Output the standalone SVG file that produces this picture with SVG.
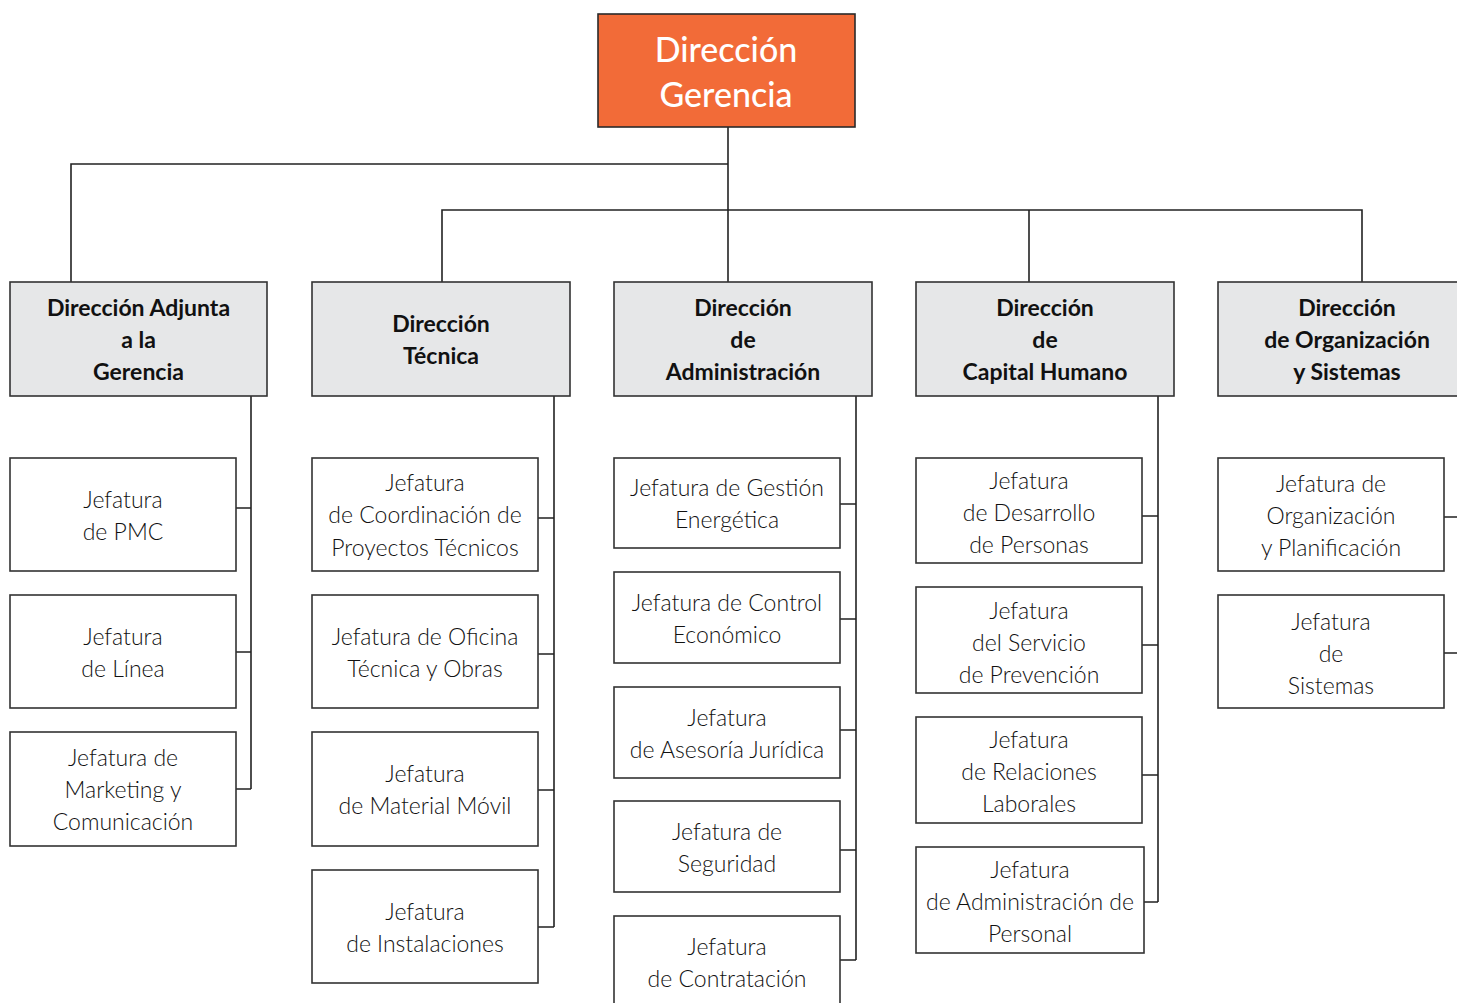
<svg xmlns="http://www.w3.org/2000/svg" width="1457" height="1003" viewBox="0 0 1457 1003">
<style>
.bg{fill:#ffffff}
.top rect{fill:#F26B38;stroke:#2a2a2a;stroke-width:1.6}
.top text{fill:#ffffff;font-family:Lato,"Open Sans","Liberation Sans",sans-serif;font-size:34px;font-weight:500;text-anchor:middle}
.hdr rect{fill:#E6E7E8;stroke:#333333;stroke-width:1.6}
.hdr text{fill:#111111;font-family:Lato,"Open Sans","Liberation Sans",sans-serif;font-size:23px;font-weight:700;text-anchor:middle}
.job rect{fill:#ffffff;stroke:#333333;stroke-width:1.6}
.job text{fill:#111111;font-family:Lato,"Open Sans","Liberation Sans",sans-serif;font-size:23px;font-weight:300;text-anchor:middle}
#connectors path{fill:none;stroke:#222222;stroke-width:1.6}
</style>
<rect class="bg" x="0" y="0" width="1457" height="1003"/>

<g id="connectors">
<path d="M728 127V282"/>
<path d="M71 282V164H728"/>
<path d="M442 282V210H1362V282"/>
<path d="M1029 210V282"/>
<path d="M236 508H251M236 652H251M236 789H251M251 396V789"/>
<path d="M538 518H554M538 654H554M538 790H554M538 927H554M554 396V927"/>
<path d="M840 504H856M840 619H856M840 730H856M840 850H856M840 960H856M856 396V960"/>
<path d="M1142 516H1158M1142 645H1158M1142 775H1158M1144 902H1158M1158 396V902"/>
<path d="M1444 517H1460M1444 653H1460M1460 396V653"/>
</g>

<g id="n-direccion-gerencia" class="top">
<rect x="598" y="14" width="257" height="113"/>
<text x="726" y="62">Dirección</text>
<text x="726" y="107">Gerencia</text>
</g>

<g id="n-adjunta" class="hdr">
<rect x="10" y="282" width="257" height="114"/>
<text x="138.5" y="316">Dirección Adjunta</text>
<text x="138.5" y="348">a la</text>
<text x="138.5" y="380">Gerencia</text>
</g>
<g id="n-tecnica" class="hdr">
<rect x="312" y="282" width="258" height="114"/>
<text x="441" y="332">Dirección</text>
<text x="441" y="364">Técnica</text>
</g>
<g id="n-administracion" class="hdr">
<rect x="614" y="282" width="258" height="114"/>
<text x="743" y="316">Dirección</text>
<text x="743" y="348">de</text>
<text x="743" y="380">Administración</text>
</g>
<g id="n-capital-humano" class="hdr">
<rect x="916" y="282" width="258" height="114"/>
<text x="1045" y="316">Dirección</text>
<text x="1045" y="348">de</text>
<text x="1045" y="380">Capital Humano</text>
</g>
<g id="n-organizacion" class="hdr">
<rect x="1218" y="282" width="258" height="114"/>
<text x="1347" y="316">Dirección</text>
<text x="1347" y="348">de Organización</text>
<text x="1347" y="380">y Sistemas</text>
</g>

<g id="n-pmc" class="job">
<rect x="10" y="458" width="226" height="113"/>
<text x="123" y="508">Jefatura</text>
<text x="123" y="540">de PMC</text>
</g>
<g id="n-linea" class="job">
<rect x="10" y="595" width="226" height="113"/>
<text x="123" y="645">Jefatura</text>
<text x="123" y="677">de Línea</text>
</g>
<g id="n-marketing" class="job">
<rect x="10" y="732" width="226" height="114"/>
<text x="123" y="766">Jefatura de</text>
<text x="123" y="798">Marketing y</text>
<text x="123" y="830">Comunicación</text>
</g>

<g id="n-coordinacion" class="job">
<rect x="312" y="458" width="226" height="113"/>
<text x="425" y="491">Jefatura</text>
<text x="425" y="523">de Coordinación de</text>
<text x="425" y="556">Proyectos Técnicos</text>
</g>
<g id="n-oficina" class="job">
<rect x="312" y="595" width="226" height="113"/>
<text x="425" y="645">Jefatura de Oficina</text>
<text x="425" y="677">Técnica y Obras</text>
</g>
<g id="n-material" class="job">
<rect x="312" y="732" width="226" height="114"/>
<text x="425" y="782">Jefatura</text>
<text x="425" y="814">de Material Móvil</text>
</g>
<g id="n-instalaciones" class="job">
<rect x="312" y="870" width="226" height="113"/>
<text x="425" y="920">Jefatura</text>
<text x="425" y="952">de Instalaciones</text>
</g>

<g id="n-energetica" class="job">
<rect x="614" y="458" width="226" height="90"/>
<text x="727" y="496">Jefatura de Gestión</text>
<text x="727" y="528">Energética</text>
</g>
<g id="n-control" class="job">
<rect x="614" y="572" width="226" height="91"/>
<text x="727" y="611">Jefatura de Control</text>
<text x="727" y="643">Económico</text>
</g>
<g id="n-juridica" class="job">
<rect x="614" y="687" width="226" height="91"/>
<text x="727" y="726">Jefatura</text>
<text x="727" y="758">de Asesoría Jurídica</text>
</g>
<g id="n-seguridad" class="job">
<rect x="614" y="801" width="226" height="91"/>
<text x="727" y="840">Jefatura de</text>
<text x="727" y="872">Seguridad</text>
</g>
<g id="n-contratacion" class="job">
<rect x="614" y="916" width="226" height="91"/>
<text x="727" y="955">Jefatura</text>
<text x="727" y="987">de Contratación</text>
</g>

<g id="n-desarrollo" class="job">
<rect x="916" y="458" width="226" height="105"/>
<text x="1029" y="489">Jefatura</text>
<text x="1029" y="521">de Desarrollo</text>
<text x="1029" y="553">de Personas</text>
</g>
<g id="n-prevencion" class="job">
<rect x="916" y="587" width="226" height="106"/>
<text x="1029" y="619">Jefatura</text>
<text x="1029" y="651">del Servicio</text>
<text x="1029" y="683">de Prevención</text>
</g>
<g id="n-relaciones" class="job">
<rect x="916" y="717" width="226" height="106"/>
<text x="1029" y="748">Jefatura</text>
<text x="1029" y="780">de Relaciones</text>
<text x="1029" y="812">Laborales</text>
</g>
<g id="n-personal" class="job">
<rect x="916" y="847" width="228" height="106"/>
<text x="1030" y="878">Jefatura</text>
<text x="1030" y="910">de Administración de</text>
<text x="1030" y="942">Personal</text>
</g>

<g id="n-planificacion" class="job">
<rect x="1218" y="458" width="226" height="113"/>
<text x="1331" y="492">Jefatura de</text>
<text x="1331" y="524">Organización</text>
<text x="1331" y="556">y Planificación</text>
</g>
<g id="n-sistemas" class="job">
<rect x="1218" y="595" width="226" height="113"/>
<text x="1331" y="630">Jefatura</text>
<text x="1331" y="662">de</text>
<text x="1331" y="694">Sistemas</text>
</g>
</svg>
